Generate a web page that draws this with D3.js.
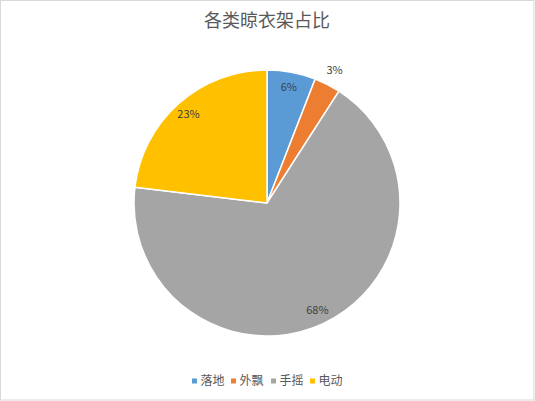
<!DOCTYPE html>
<html>
<head>
<meta charset="utf-8">
<script src="https://cdn.jsdelivr.net/npm/d3@7"></script>
<style>
  html, body { margin: 0; padding: 0; background: #fff; }
  svg { display: block; font-family: "Noto Sans CJK SC", "Microsoft YaHei", sans-serif; }
</style>
</head>
<body>
<svg id="chart" width="535" height="401"></svg>
<script>
// chart data
const categories = ["落地", "外飘", "手摇", "电动"];
const shares = [5.9, 3.2, 67.8, 23.1];
const colors = ["#5B9BD5", "#ED7D31", "#A5A5A5", "#FFC000"];
const title = "各类晾衣架占比";

const width = 535, height = 401;
const cx = 267, cy = 203, radius = 133;

const svg = d3.select("#chart");

// chart area border
svg.append("rect")
    .attr("x", 0.5).attr("y", 0.5)
    .attr("width", width - 1.5).attr("height", height - 1.5)
    .attr("fill", "#fff")
    .attr("stroke", "#D9D9D9");

svg.append("text")
    .attr("x", cx)
    .attr("y", 27)
    .attr("text-anchor", "middle")
    .attr("font-size", 18)
    .attr("fill", "#595959")
    .text(title);

const total = d3.sum(shares);
const pie = d3.pie().sort(null).value(d => d.value);
const arcs = pie(categories.map((c, i) => ({ name: c, value: shares[i], color: colors[i] })));

const arc = d3.arc().innerRadius(0).outerRadius(radius);

const g = svg.append("g").attr("transform", `translate(${cx},${cy})`);

g.selectAll("path")
    .data(arcs)
    .join("path")
    .attr("d", arc)
    .attr("fill", d => d.data.color)
    .attr("stroke", "#fff")
    .attr("stroke-width", 1.5)
    .attr("stroke-linejoin", "round");

// labels: inside near the rim, small slices outside
function labelPos(d) {
    const share = d.data.value / total;
    const r = share < 0.05 ? radius * 1.12 : radius * 0.89;
    const a = (d.startAngle + d.endAngle) / 2;
    return [Math.sin(a) * r, -Math.cos(a) * r];
}

g.selectAll("text.lbl")
    .data(arcs)
    .join("text")
    .attr("class", "lbl")
    .attr("transform", d => `translate(${labelPos(d)})`)
    .attr("text-anchor", "middle")
    .attr("dy", "0.35em")
    .attr("font-size", 11)
    .attr("fill", "#404040")
    .text(d => Math.round(d.data.value / total * 100) + "%");

// legend
const legendX = [192, 231, 271, 310];
const legend = svg.append("g").attr("transform", "translate(0,381)");
const item = legend.selectAll("g")
    .data(categories)
    .join("g")
    .attr("transform", (d, i) => `translate(${legendX[i]},0)`);

item.append("rect")
    .attr("x", 0).attr("y", -2.5)
    .attr("width", 5).attr("height", 5)
    .attr("fill", (d, i) => colors[i]);

item.append("text")
    .attr("x", 8.5)
    .attr("dy", "0.36em")
    .attr("font-size", 12)
    .attr("fill", "#595959")
    .text(d => d);
</script>
</body>
</html>
